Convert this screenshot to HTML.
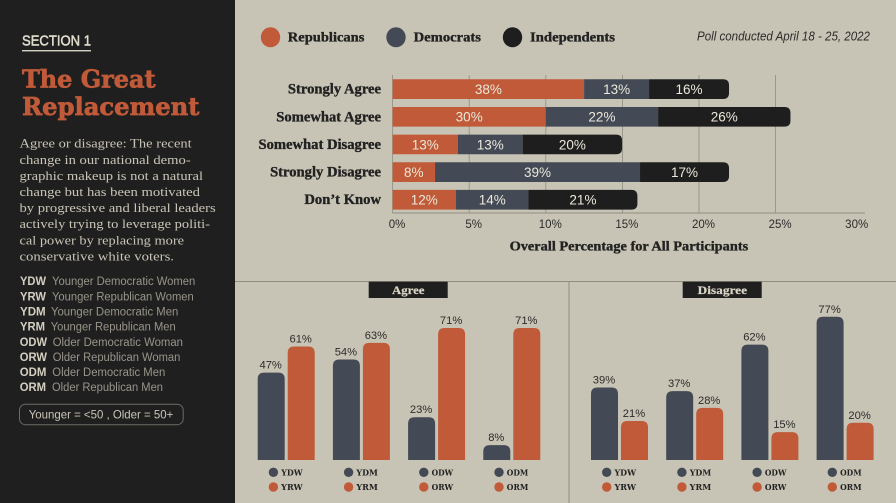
<!DOCTYPE html>
<html lang="en">
<head>
<meta charset="utf-8">
<title>The Great Replacement</title>
<style>
html,body{margin:0;padding:0;background:#c8c4b5;width:896px;height:503px;overflow:hidden}
svg{display:block}
.s{font-family:"Liberation Sans",sans-serif}
.f{font-family:"Liberation Serif",serif;font-weight:700;stroke:#222;stroke-width:.35}
.h{font-family:"Liberation Serif",serif;font-weight:700;stroke:#d8d4c6;stroke-width:.2}
.b{font-family:"Liberation Serif",serif;font-weight:400}
.d{font-family:"DejaVu Serif",serif;font-weight:700;stroke:#c05a38;stroke-width:.7}
.k{font-family:"DejaVu Serif",serif;font-weight:700}
</style>
</head>
<body>
<svg id="page" xmlns="http://www.w3.org/2000/svg" width="896" height="503" viewBox="0 0 896 503">
  <rect width="896" height="503" fill="#c8c4b5"/>
  <g>
    <rect width="235" height="503" fill="#201f1f"/>
    <text class="s" x="22" y="45.3" font-size="14.5" font-weight="400" fill="#e0dccd" stroke="#e0dccd" stroke-width=".5" textLength="69" lengthAdjust="spacingAndGlyphs">SECTION 1</text>
    <rect x="22" y="50" width="69" height="1.4" fill="#d4d0c2"/>
    <text class="d" x="22" y="87.7" font-size="24" fill="#c05a38" textLength="133.5" lengthAdjust="spacingAndGlyphs">The Great</text>
    <text class="d" x="22" y="115" font-size="24" fill="#c05a38" textLength="177.5" lengthAdjust="spacingAndGlyphs">Replacement</text>
    <g class="b" font-size="13" fill="#c9c5b7">
      <text x="19.5" y="147.7" textLength="172.2" lengthAdjust="spacingAndGlyphs">Agree or disagree: The recent</text>
      <text x="19.5" y="163.8" textLength="171.2" lengthAdjust="spacingAndGlyphs">change in our national demo-</text>
      <text x="19.5" y="179.9" textLength="183.5" lengthAdjust="spacingAndGlyphs">graphic makeup is not a natural</text>
      <text x="19.5" y="196" textLength="180.5" lengthAdjust="spacingAndGlyphs">change but has been motivated</text>
      <text x="19.5" y="212.1" textLength="196.2" lengthAdjust="spacingAndGlyphs">by progressive and liberal leaders</text>
      <text x="19.5" y="228.2" textLength="190.5" lengthAdjust="spacingAndGlyphs">actively trying to leverage politi-</text>
      <text x="19.5" y="244.3" textLength="164.5" lengthAdjust="spacingAndGlyphs">cal power by replacing more</text>
      <text x="19.5" y="260.4" textLength="154.5" lengthAdjust="spacingAndGlyphs">conservative white voters.</text>
    </g>
    <g class="s" font-size="11.5">
      <g fill="#d3cfc1" font-weight="700">
        <text x="20" y="285" textLength="26" lengthAdjust="spacingAndGlyphs">YDW</text>
        <text x="20" y="300.3" textLength="26" lengthAdjust="spacingAndGlyphs">YRW</text>
        <text x="20" y="315.6" textLength="25.7" lengthAdjust="spacingAndGlyphs">YDM</text>
        <text x="20" y="330.6" textLength="25" lengthAdjust="spacingAndGlyphs">YRM</text>
        <text x="19.7" y="345.8" textLength="27.3" lengthAdjust="spacingAndGlyphs">ODW</text>
        <text x="19.7" y="360.9" textLength="27.3" lengthAdjust="spacingAndGlyphs">ORW</text>
        <text x="19.7" y="376" textLength="26.7" lengthAdjust="spacingAndGlyphs">ODM</text>
        <text x="19.7" y="391.2" textLength="26.3" lengthAdjust="spacingAndGlyphs">ORM</text>
      </g>
      <g fill="#98958a">
        <text x="52" y="285" textLength="143.3" lengthAdjust="spacingAndGlyphs">Younger Democratic Women</text>
        <text x="52" y="300.3" textLength="141.7" lengthAdjust="spacingAndGlyphs">Younger Republican Women</text>
        <text x="51" y="315.6" textLength="127.3" lengthAdjust="spacingAndGlyphs">Younger Democratic Men</text>
        <text x="50.7" y="330.6" textLength="125" lengthAdjust="spacingAndGlyphs">Younger Republican Men</text>
        <text x="52.7" y="345.8" textLength="130.3" lengthAdjust="spacingAndGlyphs">Older Democratic Woman</text>
        <text x="52.7" y="360.9" textLength="127.6" lengthAdjust="spacingAndGlyphs">Older Republican Woman</text>
        <text x="52.3" y="376" textLength="113" lengthAdjust="spacingAndGlyphs">Older Democratic Men</text>
        <text x="52" y="391.2" textLength="111" lengthAdjust="spacingAndGlyphs">Older Republican Men</text>
      </g>
    </g>
    <rect x="19.5" y="404.3" width="163.7" height="20.4" rx="6" fill="none" stroke="#6c6b65" stroke-width="1"/>
    <text class="s" x="28.7" y="418.6" font-size="12" fill="#c9c5b7" textLength="144.6" lengthAdjust="spacingAndGlyphs">Younger = &lt;50 , Older = 50+</text>
  </g>
  <g>
    <ellipse cx="270.5" cy="37.3" rx="9.7" ry="10" fill="#c05a38"/>
    <text class="f" x="287.8" y="41.6" font-size="13.5" fill="#222" textLength="76.6" lengthAdjust="spacingAndGlyphs">Republicans</text>
    <ellipse cx="396" cy="37.3" rx="9.7" ry="10" fill="#434a55"/>
    <text class="f" x="413.6" y="41.6" font-size="13.5" fill="#222" textLength="67.4" lengthAdjust="spacingAndGlyphs">Democrats</text>
    <ellipse cx="512.5" cy="37.3" rx="9.7" ry="10" fill="#1e1e1e"/>
    <text class="f" x="530" y="41.6" font-size="13.5" fill="#222" textLength="85" lengthAdjust="spacingAndGlyphs">Independents</text>
  </g>
  <text class="s" x="697" y="40.6" font-size="12.5" font-style="italic" fill="#2b2b2b" textLength="173" lengthAdjust="spacingAndGlyphs">Poll conducted April 18 - 25, 2022</text>
  <text class="f" x="509.6" y="250.7" font-size="13.5" fill="#222" textLength="238.6" lengthAdjust="spacingAndGlyphs">Overall Percentage for All Participants</text>
  <rect x="235" y="281" width="661" height="1" fill="#8f8d80"/>
  <rect x="568.5" y="281" width="1" height="222" fill="#8f8d80"/>
  <g id="stacked"></g>
  <rect x="368.7" y="281.7" width="79" height="16.3" fill="#1f1f1f"/>
  <text class="h" x="392" y="293.8" font-size="12" fill="#d8d4c6" textLength="32.5" lengthAdjust="spacingAndGlyphs">Agree</text>
  <rect x="682.7" y="281.7" width="79" height="16.3" fill="#1f1f1f"/>
  <text class="h" x="697.7" y="293.8" font-size="12" fill="#d8d4c6" textLength="49.3" lengthAdjust="spacingAndGlyphs">Disagree</text>
  <g id="agree"></g>
  <g id="disagree"></g>
</svg>
<script>
// Stacked chart data (drawn share of all participants, in %)
const rowLabels = ["Strongly Agree", "Somewhat Agree", "Somewhat Disagree", "Strongly Disagree", "Don\u2019t Know"];
const republicanShare = [12.5, 10.0, 4.26, 2.77, 4.14];
const democratShare = [4.24, 7.33, 4.23, 13.38, 4.73];
const independentShare = [5.22, 8.64, 6.49, 5.81, 7.11];
// Printed percentages within each party
const republicanPrinted = ["38%", "30%", "13%", "8%", "12%"];
const democratPrinted = ["13%", "22%", "13%", "39%", "14%"];
const independentPrinted = ["16%", "26%", "20%", "17%", "21%"];
const xTicks = [0, 5, 10, 15, 20, 25, 30];
// Grouped charts
const agreeDem = [47, 54, 23, 8];
const agreeRep = [61, 63, 71, 71];
const disagreeDem = [39, 37, 62, 77];
const disagreeRep = [21, 28, 15, 20];
const demCodes = ["YDW", "YDM", "ODW", "ODM"];
const repCodes = ["YRW", "YRM", "ORW", "ORM"];

const NS = "http://www.w3.org/2000/svg";
const RED = "#c05a38", SLATE = "#434a55", BLACK = "#1e1e1e", GRID = "#8f8d80";
const xScale = v => 392.6 + v * 15.32;
const rowY = i => 79.3 + i * 27.65;
const ROW_H = 19.7;

function make(parent, tag, attrs, content) {
  const el = document.createElementNS(NS, tag);
  for (const k in attrs) el.setAttribute(k, attrs[k]);
  if (content !== undefined) el.textContent = content;
  parent.appendChild(el);
  return el;
}
function rightRound(x, y, w, h, r) {
  r = Math.min(r, w, h / 2);
  return `M${x} ${y}H${x + w - r}Q${x + w} ${y} ${x + w} ${y + r}V${y + h - r}Q${x + w} ${y + h} ${x + w - r} ${y + h}H${x}Z`;
}
function topRound(x, y, w, h, r) {
  r = Math.min(r, w / 2, h);
  return `M${x} ${y + h}V${y + r}Q${x} ${y} ${x + r} ${y}H${x + w - r}Q${x + w} ${y} ${x + w} ${y + r}V${y + h}Z`;
}

const stacked = document.getElementById("stacked");
xTicks.forEach(t => {
  if (t < 30) {
    const line = make(stacked, "line", {x1: xScale(t), x2: xScale(t), y1: 75, y2: 213, stroke: GRID, "stroke-width": 0.8});
    
    
  }
  const label = make(stacked, "text", {x: xScale(t) + 4.5, y: 228, "text-anchor": "middle", "font-size": 11.5, fill: "#2b2b2b", class: "s"}, t + "%");
  
  
});
const axisLine = make(stacked, "line", {x1: 392.6, x2: 865, y1: 213, y2: 213, stroke: GRID, "stroke-width": 1});



const seriesDefs = [
  [republicanShare, republicanPrinted, RED],
  [democratShare, democratPrinted, SLATE],
  [independentShare, independentPrinted, BLACK]
];
rowLabels.forEach((name, i) => {
  const y = rowY(i);
  const rowLabel = make(stacked, "text", {x: 381, y: y + 14.3, "text-anchor": "end", "font-size": 14.6, fill: "#222", class: "f"}, name);
  
  
  let acc = 0;
  seriesDefs.forEach((s, k) => {
    const x0 = xScale(acc), x1 = xScale(acc + s[0][i]);
    const seg = make(stacked, "path", {
      d: k === 2 ? rightRound(x0, y, x1 - x0, ROW_H, 6) : `M${x0} ${y}H${x1}V${y + ROW_H}H${x0}Z`,
      fill: s[2]
    });
    
    
    const val = make(stacked, "text", {x: (x0 + x1) / 2, y: y + 14.7, "text-anchor": "middle", "font-size": 13.5, fill: "#ece8da", class: "s"}, s[1][i]);
    
    
    acc += s[0][i];
  });
});

const BASE = 460, H_SCALE = 1.86, BAR_W = 27, PITCH = 75.2;
const barH = v => v * H_SCALE;
function grouped(rootId, startX, demVals, repVals) {
  const root = document.getElementById(rootId);
  demVals.forEach((_, i) => {
    const gx = startX + i * PITCH;
    [[demVals[i], SLATE, gx], [repVals[i], RED, gx + 30]].forEach(b => {
      const h = barH(b[0]);
      const bar = make(root, "path", {d: topRound(b[2], BASE - h, BAR_W, h, 6.5), fill: b[1]});
      
      
      const val = make(root, "text", {x: b[2] + BAR_W / 2 - 0.5, y: BASE - h - 4, "text-anchor": "middle", "font-size": 11.2, fill: "#2b2b2b", class: "s"}, b[0] + "%");
      
      
    });
    [[demCodes[i], SLATE, 472.3], [repCodes[i], RED, 487]].forEach(l => {
      const dot = make(root, "circle", {cx: gx + 15.7, cy: l[2], r: 4.7, fill: l[1]});
      
      
      const code = make(root, "text", {x: gx + 23.5, y: l[2] + 3.2, "font-size": 8, fill: "#222", class: "k", textLength: 21.5, lengthAdjust: "spacingAndGlyphs"}, l[0]);
      
      
    });
  });
}
grouped("agree", 257.7, agreeDem, agreeRep);
grouped("disagree", 591, disagreeDem, disagreeRep);
</script>
</body>
</html>
